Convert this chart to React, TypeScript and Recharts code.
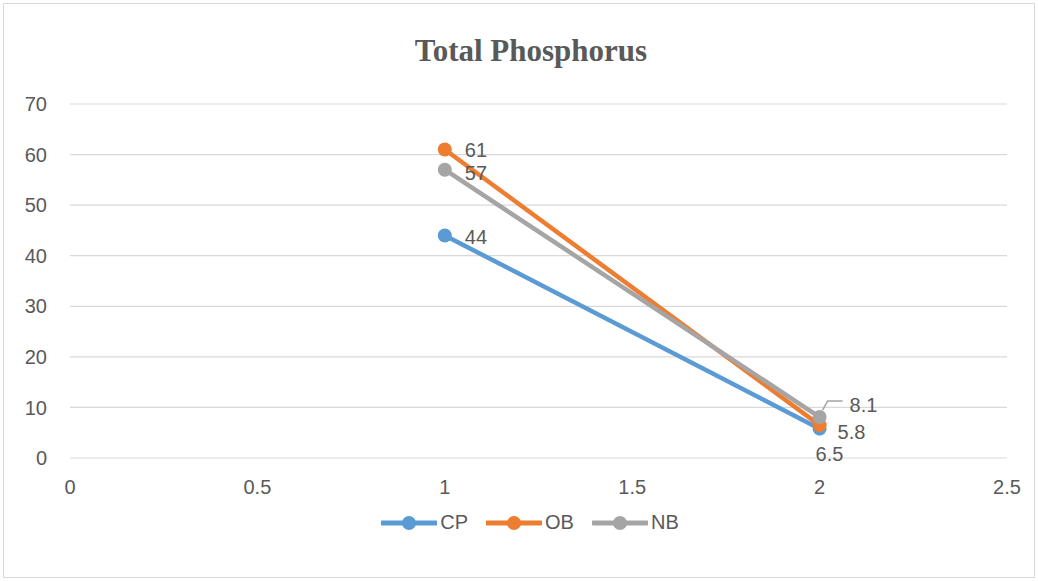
import React from "react";
import {
  LineChart,
  Line,
  XAxis,
  YAxis,
  CartesianGrid,
  Legend,
} from "recharts";

const xValues = [1, 2];
const cpValues = [44, 5.8];
const obValues = [61, 6.5];
const nbValues = [57, 8.1];
const xTicks = [0, 0.5, 1, 1.5, 2, 2.5];
const yTicks = [0, 10, 20, 30, 40, 50, 60, 70];

const series = [
  { key: "CP", color: "#5B9BD5" },
  { key: "OB", color: "#ED7D31" },
  { key: "NB", color: "#A5A5A5" },
];

const data = xValues.map((x, i) => ({
  x,
  CP: cpValues[i],
  OB: obValues[i],
  NB: nbValues[i],
}));

const textColor = "#595959";
const tickFont = "'Liberation Sans', Arial, sans-serif";
const fontSize = 20;

// label offsets relative to the point, per series and point index
const labelPlacement: Record<string, { dx: number; dy: number; leader?: boolean }[]> = {
  CP: [
    { dx: 20, dy: 2 },
    { dx: 18, dy: 3 },
  ],
  OB: [
    { dx: 20, dy: 0 },
    { dx: -4, dy: 29 },
  ],
  NB: [
    { dx: 20, dy: 3 },
    { dx: 30, dy: -12, leader: true },
  ],
};

const makeLabel = (name: string) => (props: any) => {
  const { x, y, value, index } = props;
  const p = labelPlacement[name][index];
  return (
    <g key={`${name}-${index}`}>
      {p.leader && (
        <polyline
          points={`${x + 3},${y - 7} ${x + 8},${y - 16} ${x + 23},${y - 16}`}
          fill="none"
          stroke="#A5A5A5"
          strokeWidth={1.5}
        />
      )}
      <text
        x={x + p.dx}
        y={y + p.dy}
        fill={textColor}
        fontSize={fontSize}
        fontFamily={tickFont}
        textAnchor="start"
        dominantBaseline="central"
      >
        {value}
      </text>
    </g>
  );
};

const LegendContent = () => (
  <div
    style={{
      display: "flex",
      justifyContent: "center",
      gap: 18,
      paddingLeft: 22,
      fontFamily: tickFont,
      fontSize: fontSize,
      color: textColor,
    }}
  >
    {series.map((s) => (
      <div key={s.key} style={{ display: "flex", alignItems: "center" }}>
        <svg width={56} height={18}>
          <line x1={1} y1={9} x2={55} y2={9} stroke={s.color} strokeWidth={5} strokeLinecap="round" />
          <circle cx={28} cy={9} r={7} fill={s.color} />
        </svg>
        <span style={{ marginLeft: 3 }}>{s.key}</span>
      </div>
    ))}
  </div>
);

export default function App() {
  return (
    <div style={{ position: "absolute", left: 0, top: 0, width: 1038, height: 581, background: "#fff" }}>
      <div
        style={{
          position: "absolute",
          left: 3,
          top: 3,
          width: 1032,
          height: 575,
          boxSizing: "border-box",
          border: "1.5px solid #d9d9d9",
        }}
      />
      <div
        style={{
          position: "absolute",
          left: 0,
          width: 1062,
          top: 34,
          textAlign: "center",
          fontFamily: "'Liberation Serif', 'Times New Roman', serif",
          fontWeight: "bold",
          fontSize: 31,
          lineHeight: "34px",
          color: textColor,
        }}
      >
        Total Phosphorus
      </div>
      <div style={{ position: "absolute", left: 0, top: 0 }}>
        <LineChart
          width={1038}
          height={581}
          data={data}
          margin={{ top: 104, right: 31, left: 0, bottom: 83 }}
        >
          <CartesianGrid vertical={false} stroke="#d9d9d9" strokeWidth={1.2} />
          <XAxis
            dataKey="x"
            type="number"
            domain={[0, 2.5]}
            ticks={xTicks}
            axisLine={false}
            tickLine={false}
            tickSize={0}
            tickMargin={22}
            height={40}
            interval={0}
            tick={{ fill: textColor, fontSize: fontSize, fontFamily: tickFont }}
          />
          <YAxis
            type="number"
            domain={[0, 70]}
            ticks={yTicks}
            axisLine={false}
            tickLine={false}
            tickSize={0}
            tickMargin={23}
            width={70}
            interval={0}
            tick={{ fill: textColor, fontSize: fontSize, fontFamily: tickFont }}
          />
          <Legend
            layout="vertical"
            align="center"
            verticalAlign="middle"
            content={<LegendContent />}
            wrapperStyle={{ position: "absolute", left: 0, top: 511, width: 1038 }}
          />
          {series.map((s) => (
            <Line
              key={s.key}
              dataKey={s.key}
              type="linear"
              stroke={s.color}
              strokeWidth={4.5}
              dot={{ r: 7, fill: s.color, stroke: s.color, strokeWidth: 0 }}
              activeDot={false}
              isAnimationActive={false}
              label={makeLabel(s.key)}
            />
          ))}
        </LineChart>
      </div>
    </div>
  );
}
